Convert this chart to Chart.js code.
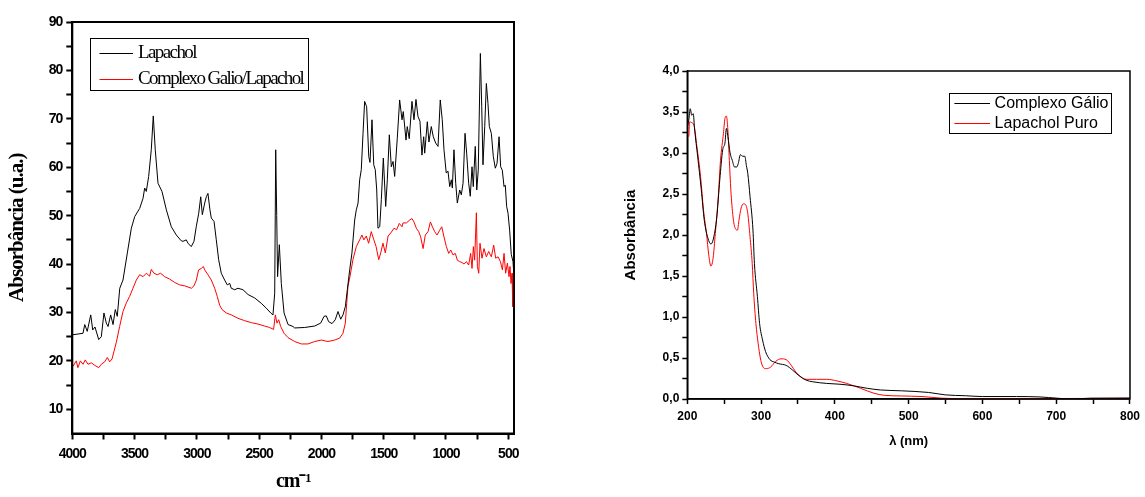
<!DOCTYPE html>
<html>
<head>
<meta charset="utf-8">
<script src="https://cdn.jsdelivr.net/npm/chart.js@4.4.0/dist/chart.umd.min.js"></script>
<style>
  body { margin: 0; background: #fff; }
  #wrap { position: relative; width: 1145px; height: 497px; overflow: hidden; }
  #ir-chart { position: absolute; left: 0; top: 0; }
  #uv-chart { position: absolute; left: 600px; top: 0; }
</style>
</head>
<body>
<div id="wrap">
  <canvas id="ir-chart" width="530" height="497"></canvas>
  <canvas id="uv-chart" width="545" height="497"></canvas>
</div>
<script>
// IR spectrum (left)
const lapacholIrX = [3994, 3914, 3900, 3880, 3852, 3836, 3818, 3788, 3767, 3746, 3727, 3713, 3692, 3673, 3655, 3639,
  3619, 3593, 3558, 3526, 3499, 3459, 3432, 3419, 3406, 3387, 3366, 3350, 3334, 3312, 3280, 3245, 3205, 3165, 3125,
  3111, 3085, 3071, 3045, 3023, 3005, 2985, 2969, 2956, 2937, 2924, 2911, 2895, 2884, 2862, 2844, 2825, 2804, 2777,
  2756, 2736, 2724, 2696, 2670, 2630, 2589, 2536, 2483, 2443, 2407, 2389, 2375, 2367, 2359, 2352, 2338, 2322, 2300,
  2268, 2228, 2215, 2134, 2054, 2006, 1979, 1961, 1942, 1915, 1889, 1867, 1845, 1827, 1808, 1792, 1773, 1755, 1733,
  1720, 1706, 1693, 1680, 1666, 1653, 1637, 1620, 1610, 1594, 1580, 1568, 1556, 1546, 1532, 1519, 1503, 1484, 1471,
  1455, 1439, 1425, 1412, 1391, 1372, 1353, 1343, 1321, 1311, 1295, 1273, 1257, 1241, 1225, 1209, 1193, 1179, 1171,
  1150, 1137, 1118, 1102, 1083, 1064, 1046, 1030, 1016, 998, 984, 970, 957, 949, 936, 922, 909, 890, 877, 863, 847,
  834, 818, 805, 791, 781, 765, 753, 741, 724, 713, 703, 689, 676, 663, 652, 636, 620, 604, 590, 574, 561, 548, 534,
  524, 513, 502, 489, 476, 462, 456];
const lapacholIrY = [25.4, 25.7, 27.5, 26.1, 29.5, 26.4, 27.0, 24.4, 25.0, 29.9, 27.8, 27.1, 29.5, 27.5, 30.6, 29.2,
  35.0, 36.7, 42.3, 47.4, 49.8, 51.5, 53.6, 55.7, 55.0, 58.1, 63.6, 70.6, 63.6, 56.7, 55.0, 51.2, 47.7, 46.0, 44.8,
  44.7, 45.0, 44.3, 43.6, 44.7, 47.7, 50.5, 53.9, 50.2, 52.6, 53.9, 54.6, 51.2, 49.5, 48.8, 45.0, 40.9, 38.1, 36.7,
  35.7, 36.0, 35.0, 34.7, 35.0, 34.7, 33.7, 33.0, 31.9, 30.9, 29.9, 29.5, 34.0, 63.6, 50.0, 37.4, 44.0, 36.0, 29.9,
  27.5, 27.1, 26.8, 26.9, 27.2, 27.8, 29.2, 29.3, 28.1, 27.7, 28.5, 30.2, 28.6, 29.5, 31.2, 34.7, 38.8, 42.3, 49.1,
  51.2, 52.6, 57.4, 59.5, 67.0, 73.6, 72.5, 62.2, 61.0, 69.8, 60.5, 59.5, 55.3, 47.4, 47.7, 53.3, 61.9, 51.9, 57.4,
  66.7, 60.1, 61.2, 58.1, 66.0, 73.9, 69.8, 71.5, 65.6, 68.4, 65.9, 73.6, 69.8, 74.0, 70.5, 69.5, 62.5, 66.3, 62.9,
  69.4, 65.2, 68.4, 66.3, 65.0, 64.3, 73.9, 69.8, 63.6, 58.8, 59.2, 56.0, 57.4, 55.7, 63.6, 56.7, 52.6, 55.3, 54.3, 56.7, 67.0,
  62.9, 56.7, 54.0, 60.1, 56.0, 64.3, 55.3, 59.4, 83.5, 72.5, 60.5, 68.4, 77.3, 73.2, 68.4, 67.0, 62.2, 59.8, 60.8, 66.3, 60.1, 59.4, 56.0,
  56.3, 51.9, 50.5, 47.0, 42.0, 40.5, 38.0];

const complexoIrX = [3994, 3968, 3955, 3935, 3914, 3896, 3874, 3847, 3821, 3788, 3767, 3740, 3719, 3700, 3681, 3665,
  3647, 3620, 3593, 3566, 3540, 3513, 3486, 3459, 3432, 3406, 3379, 3366, 3344, 3318, 3291, 3259, 3219, 3178, 3138,
  3097, 3044, 3023, 3004, 2986, 2964, 2948, 2937, 2911, 2884, 2857, 2836, 2817, 2798, 2764, 2724, 2670, 2616, 2563,
  2509, 2456, 2416, 2384, 2370, 2357, 2343, 2327, 2300, 2268, 2215, 2161, 2108, 2054, 2001, 1948, 1894, 1854, 1827,
  1808, 1797, 1787, 1771, 1747, 1720, 1693, 1675, 1659, 1640, 1621, 1600, 1579, 1561, 1540, 1524, 1506, 1487, 1465,
  1444, 1417, 1396, 1375, 1353, 1345, 1318, 1291, 1273, 1257, 1238, 1219, 1203, 1184, 1166, 1144, 1125, 1109, 1091,
  1072, 1050, 1034, 1016, 997, 978, 962, 944, 925, 909, 890, 871, 855, 836, 818, 802, 791, 780, 770, 756, 748, 737,
  727, 711, 695, 676, 657, 636, 617, 601, 582, 563, 547, 534, 521, 507, 494, 486, 478, 470, 464, 458, 455];
const complexoIrY = [18.9, 20.0, 18.6, 20.0, 19.3, 20.2, 19.3, 19.6, 19.1, 18.6, 19.3, 19.8, 20.7, 19.8, 20.4, 22.0,
  23.8, 27.1, 30.2, 32.0, 33.3, 35.0, 36.7, 37.8, 37.4, 38.1, 37.5, 38.9, 38.1, 37.8, 38.1, 37.4, 36.9, 36.2, 35.7,
  35.5, 35.0, 35.5, 36.7, 38.8, 39.1, 39.5, 38.8, 37.8, 36.7, 35.0, 33.3, 31.5, 30.6, 29.9, 29.5, 28.8, 28.3, 27.9,
  27.6, 27.2, 26.9, 26.5, 29.5, 27.8, 28.5, 27.1, 25.7, 24.8, 24.0, 23.5, 23.5, 24.0, 24.3, 24.0, 24.3, 24.7, 25.7,
  27.8, 31.9, 35.4, 37.4, 40.9, 43.6, 45.0, 46.0, 45.0, 45.8, 44.3, 46.7, 45.0, 43.6, 40.9, 42.3, 44.3, 42.3, 45.8,
  46.4, 47.4, 47.1, 48.4, 47.7, 48.5, 48.5, 49.1, 49.4, 48.7, 47.4, 46.7, 45.6, 43.2, 46.0, 46.7, 48.7, 47.7, 46.7,
  46.0, 47.0, 47.7, 45.6, 43.6, 42.2, 42.9, 41.9, 42.2, 40.8, 40.5, 40.3, 40.0, 40.5, 39.8, 42.2, 39.1, 43.6, 40.8, 50.6, 39.5, 38.1,
  44.3, 41.2, 43.2, 41.5, 42.6, 41.5, 43.9, 41.2, 41.5, 40.5, 38.8, 42.2, 38.1, 40.2, 37.4, 39.5, 36.0, 38.1, 31.2, 33.0, 28.5];

const irXTicks = [4000, 3750, 3500, 3250, 3000, 2750, 2500, 2250, 2000, 1750, 1500, 1250, 1000, 750, 500];
const irYTicks = [10, 15, 20, 25, 30, 35, 40, 45, 50, 55, 60, 65, 70, 75, 80, 85, 90];

// UV-Vis spectrum (right)
const complexoUvX = [200, 202, 204, 206, 208, 210, 214, 219, 223, 228, 232, 235, 240, 244, 248, 251, 253, 255, 258,
  261, 264, 267, 269, 272, 275, 278, 280, 282, 285, 289, 291, 295, 298, 302, 306, 312, 318, 324, 334, 343, 352, 361,
  370, 389, 407, 426, 444, 462, 490, 527, 550, 577, 600, 646, 678, 701, 720, 747, 800];
const complexoUvY = [3.32, 3.40, 3.54, 3.46, 3.48, 3.28, 2.96, 2.55, 2.18, 1.96, 1.89, 1.94, 2.22, 2.67, 3.04, 3.12,
  3.30, 3.20, 3.00, 2.91, 2.83, 2.83, 2.87, 2.98, 2.96, 2.96, 2.85, 2.75, 2.47, 2.06, 1.65, 1.25, 0.92, 0.72, 0.58,
  0.48, 0.45, 0.43, 0.41, 0.35, 0.28, 0.23, 0.21, 0.19, 0.18, 0.16, 0.13, 0.11, 0.10, 0.08, 0.05, 0.04, 0.03, 0.03,
  0.025, 0.01, 0.0, 0.01, 0.012];

const lapacholUvX = [200, 202, 203, 206, 209, 213, 218, 222, 226, 229, 232, 235, 238, 242, 245, 249, 251, 253, 255,
  257, 259, 262, 265, 268, 270, 273, 276, 279, 282, 285, 288, 290, 293, 296, 299, 302, 307, 313, 320, 327, 334, 341,
  347, 354, 361, 375, 389, 403, 416, 435, 453, 467, 490, 518, 545, 577, 646, 800];
const lapacholUvY = [3.24, 3.20, 3.38, 3.37, 3.34, 3.08, 2.71, 2.30, 2.02, 1.76, 1.62, 1.72, 2.02, 2.47, 2.91, 3.24,
  3.42, 3.45, 3.28, 2.91, 2.55, 2.22, 2.08, 2.06, 2.18, 2.33, 2.38, 2.37, 2.26, 1.98, 1.65, 1.29, 0.92, 0.68, 0.50,
  0.40, 0.37, 0.39, 0.46, 0.49, 0.48, 0.41, 0.33, 0.27, 0.24, 0.24, 0.24, 0.22, 0.19, 0.13, 0.07, 0.045, 0.037, 0.03,
  0.01, 0.005, 0.005, 0.008];

const uvXTicks = [200, 250, 300, 350, 400, 450, 500, 550, 600, 650, 700, 750, 800];
const uvYTicks = [0, 0.25, 0.5, 0.75, 1, 1.25, 1.5, 1.75, 2, 2.25, 2.5, 2.75, 3, 3.25, 3.5, 3.75, 4];

const toPoints = (xs, ys) => xs.map((x, i) => ({ x: x, y: ys[i] }));
const setTicks = values => scale => { scale.ticks = values.map(v => ({ value: v })); };

// box round the plot area, and optional letter spacing for all text
const frameBox = {
    id: 'frameBox',
    beforeDraw(chart, args, opts) {
        chart.ctx.letterSpacing = opts.letterSpacing || '0px';
    },
    afterDatasetsDraw(chart, args, opts) {
        const { ctx, chartArea: a } = chart;
        ctx.save();
        ctx.strokeStyle = '#000';
        ctx.lineWidth = opts.width;
        ctx.strokeRect(a.left, a.top, a.right - a.left, a.bottom - a.top);
        ctx.restore();
    }
};

// legend drawn inside the plot, with a box round it
const boxLegend = {
    id: 'boxLegend',
    afterDraw(chart, args, o) {
        const ctx = chart.ctx;
        ctx.save();
        ctx.strokeStyle = '#000';
        ctx.lineWidth = 1;
        ctx.strokeRect(o.x + 0.5, o.y + 0.5, o.w, o.h);
        ctx.font = o.font;
        ctx.letterSpacing = o.spacing;
        ctx.textBaseline = 'middle';
        ctx.fillStyle = '#000';
        chart.data.datasets.forEach((ds, i) => {
            const y = Math.round(o.y + o.first + i * o.row) + 0.5;
            ctx.strokeStyle = ds.borderColor;
            ctx.beginPath();
            ctx.moveTo(o.x + o.line[0], y);
            ctx.lineTo(o.x + o.line[1], y);
            ctx.stroke();
            ctx.fillText(ds.label, o.x + o.text, y);
        });
        ctx.restore();
    }
};

function axisStyle(tickLength, width) {
    return {
        grid: { display: true, drawOnChartArea: false, drawTicks: true, tickLength: tickLength, tickColor: '#000', tickWidth: width },
        border: { display: true, color: '#000', width: width }
    };
}

const irAxis = axisStyle(6, 2);
const uvAxis = axisStyle(5, 1.5);

new Chart(document.getElementById('ir-chart').getContext('2d'), {
    type: 'line',
    data: {
        datasets: [{
            label: 'Lapachol',
            data: toPoints(lapacholIrX, lapacholIrY),
            borderColor: '#000000',
            borderWidth: 1,
            pointRadius: 0,
            tension: 0
        }, {
            label: 'Complexo Galio/Lapachol',
            data: toPoints(complexoIrX, complexoIrY),
            borderColor: '#ff0000',
            borderWidth: 1,
            pointRadius: 0,
            tension: 0
        }]
    },
    options: {
        responsive: false,
        animation: false,
        events: [],
        layout: { padding: { left: 0, top: 22, right: 16, bottom: 0 } },
        scales: {
            x: {
                type: 'linear',
                reverse: true,
                min: 454,
                max: 4000,
                afterBuildTicks: setTicks(irXTicks),
                afterFit: scale => { scale.height = 63.5; },
                grid: irAxis.grid,
                border: irAxis.border,
                ticks: {
                    autoSkip: false, maxRotation: 0, minRotation: 0, padding: 6, color: '#000',
                    font: { family: 'Liberation Sans, Arial, sans-serif', size: 14, weight: 'bold' },
                    callback: v => (v % 500 === 0 ? String(v) : '')
                },
                title: {
                    display: true, text: 'cm\u207B\u00B9', color: '#000',
                    font: { family: 'Liberation Serif, Times New Roman, serif', size: 20, weight: 'bold' },
                    padding: { top: 0, bottom: 3 }
                }
            },
            y: {
                min: 5,
                max: 90,
                afterBuildTicks: setTicks(irYTicks),
                afterFit: scale => { scale.width = 72.3; },
                grid: irAxis.grid,
                border: irAxis.border,
                ticks: {
                    autoSkip: false, padding: 4, color: '#000',
                    font: { family: 'Liberation Sans, Arial, sans-serif', size: 14, weight: 'bold' },
                    callback: v => (v % 10 === 0 ? String(v) : '')
                },
                title: {
                    display: true, text: 'Absorbância (u.a.)', color: '#000',
                    font: { family: 'Liberation Serif, Times New Roman, serif', size: 21, weight: 'bold' },
                    padding: { top: 5, bottom: 0 }
                }
            }
        },
        plugins: {
            legend: { display: false },
            tooltip: { enabled: false },
            frameBox: { width: 2, letterSpacing: '-1px' },
            boxLegend: {
                x: 90, y: 38, w: 218, h: 52, first: 15, row: 26,
                line: [9.5, 43], text: 48,
                font: '19px "Liberation Serif", "Times New Roman", serif', spacing: '-1.6px'
            }
        }
    },
    plugins: [frameBox, boxLegend]
});

new Chart(document.getElementById('uv-chart').getContext('2d'), {
    type: 'line',
    data: {
        datasets: [{
            label: 'Complexo Gálio',
            data: toPoints(complexoUvX, complexoUvY),
            borderColor: '#000000',
            borderWidth: 1,
            pointRadius: 0,
            cubicInterpolationMode: 'monotone'
        }, {
            label: 'Lapachol Puro',
            data: toPoints(lapacholUvX, lapacholUvY),
            borderColor: '#ff0000',
            borderWidth: 1,
            pointRadius: 0,
            cubicInterpolationMode: 'monotone'
        }]
    },
    options: {
        responsive: false,
        animation: false,
        events: [],
        layout: { padding: { left: 0, top: 71, right: 12.4, bottom: 0 } },
        scales: {
            x: {
                type: 'linear',
                min: 200,
                max: 800,
                afterBuildTicks: setTicks(uvXTicks),
                afterFit: scale => { scale.height = 98; },
                grid: uvAxis.grid,
                border: uvAxis.border,
                ticks: {
                    autoSkip: false, maxRotation: 0, minRotation: 0, padding: 5, color: '#000',
                    font: { family: 'Liberation Sans, Arial, sans-serif', size: 12, weight: 'bold' },
                    callback: v => (v % 100 === 0 ? String(v) : '')
                },
                title: {
                    display: true, text: 'λ (nm)', color: '#000',
                    font: { family: 'Liberation Sans, Arial, sans-serif', size: 13, weight: 'bold' },
                    padding: { top: 0, bottom: 48 }
                }
            },
            y: {
                min: 0,
                max: 4,
                afterBuildTicks: setTicks(uvYTicks),
                afterFit: scale => { scale.width = 87.3; },
                grid: uvAxis.grid,
                border: uvAxis.border,
                ticks: {
                    autoSkip: false, padding: 3, color: '#000',
                    font: { family: 'Liberation Sans, Arial, sans-serif', size: 12, weight: 'bold' },
                    callback: v => (Math.abs(v * 2 - Math.round(v * 2)) < 1e-9 ? v.toFixed(1).replace('.', ',') : '')
                },
                title: {
                    display: true, text: 'Absorbância', color: '#000',
                    font: { family: 'Liberation Sans, Arial, sans-serif', size: 15, weight: 'bold' },
                    padding: { top: 22, bottom: 0 }
                }
            }
        },
        plugins: {
            legend: { display: false },
            tooltip: { enabled: false },
            frameBox: { width: 1.5 },
            boxLegend: {
                x: 349, y: 93, w: 162, h: 40, first: 10.3, row: 20,
                line: [5.4, 41], text: 45.6,
                font: '16px "Liberation Sans", Arial, sans-serif', spacing: '0px'
            }
        }
    },
    plugins: [frameBox, boxLegend]
});
</script>
</body>
</html>
